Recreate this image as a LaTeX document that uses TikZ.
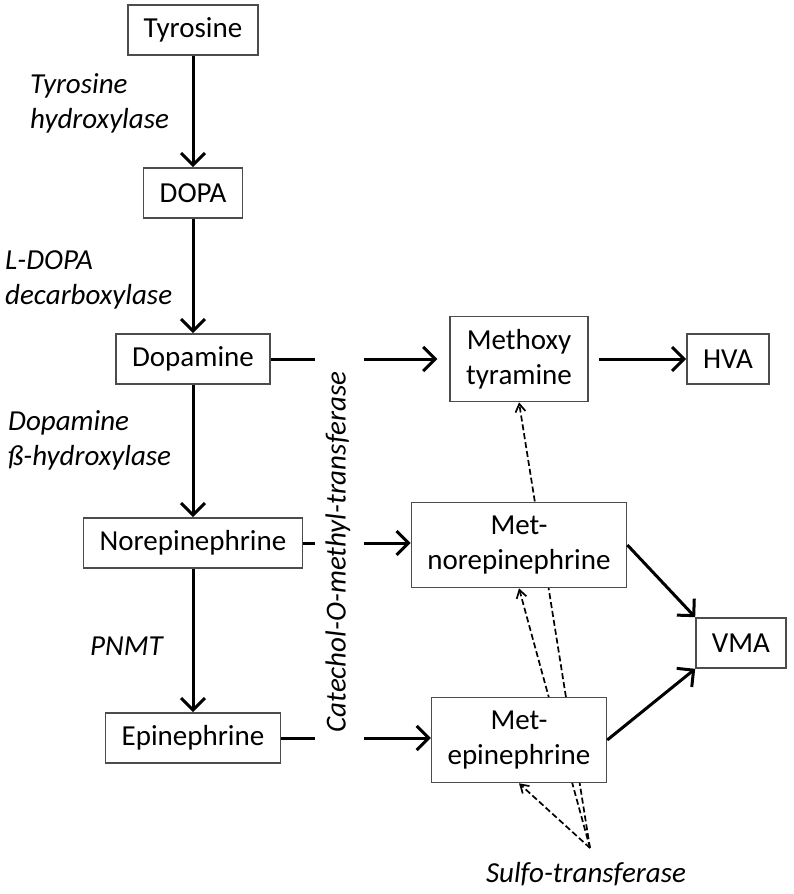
\documentclass[tikz,border=0pt]{standalone}
\usepackage{fontspec}
\setmainfont{Carlito}
\usetikzlibrary{arrows.meta,backgrounds}

\begin{document}
\begin{tikzpicture}[x=1pt,y=-1pt,
    font=\fontsize{29}{35}\selectfont,
    box/.style={draw=black!70,line width=1.6pt,fill=white,inner xsep=16pt,minimum height=50pt,align=center},
    tall/.style={box,minimum height=85pt},
    enzyme/.style={font=\fontsize{29}{35}\selectfont\itshape,align=left,inner sep=0pt},
    link/.style={line width=3pt},
    arr/.style={link,-{Straight Barb[length=12pt,width=24pt]}},
    sulf/.style={line width=1.7pt,dash pattern=on 6pt off 3pt,-{Straight Barb[length=8pt,width=10pt]}}]
                \useasboundingbox (0,0) rectangle (793,894);
                % Main pathway
                \node [box] (tyrosine) at (193,30) {Tyrosine};
                \node [box] (dopa) at (193,193) {DOPA};
                \node [box] (dopamine) at (193,359) {Dopamine};
                \node [box] (norepi) at (193,543) {Norepinephrine};
                \node [box] (epi) at (193,738) {Epinephrine};
                % Metabolites
                \node [tall] (methoxy) at (519,359) {Methoxy\\tyramine};
                \node [box] (hva) at (728,359) {HVA};
                \node [tall] (metnor) at (519,545) {Met-\\norepinephrine};
                \node [tall] (metepi) at (519,740) {Met-\\epinephrine};
                \node [box] (vma) at (741,643) {VMA};
                % Enzymes
                \node [enzyme,anchor=west] (tyrhyd) at (30,103) {Tyrosine\\hydroxylase};
                \node [enzyme,anchor=west] (ddc) at (5,280) {L-DOPA\\decarboxylase};
                \node [enzyme,anchor=west] (dbh) at (8,440) {Dopamine\\ß-hydroxylase};
                \node [enzyme,anchor=west] (pnmt) at (90,646) {PNMT};
                \node [enzyme,rotate=90] (comt) at (338,552) {Catechol-O-methyl-transferase};
                \node [enzyme] (sult) at (586,874) {Sulfo-transferase};
                \coordinate (gapl) at (315,0);
                \coordinate (gapr) at (364,0);
                \coordinate (st) at (590,848);
                % Synthesis
                \draw [arr] (tyrosine) -- (dopa);
                \draw [arr] (dopa) -- (dopamine);
                \draw [arr] (dopamine) -- (norepi);
                \draw [arr] (norepi) -- (epi);
                % Methylation
                \draw [link] (dopamine) -- (dopamine -| gapl);
                \draw [arr,shorten >=12pt] (dopamine -| gapr) -- (methoxy);
                \draw [link] (norepi) -- (norepi -| gapl);
                \draw [arr] (norepi -| gapr) -- (norepi -| metnor.west);
                \draw [link] (epi) -- (epi -| gapl);
                \draw [arr] (epi -| gapr) -- (epi -| metepi.west);
                % Breakdown
                \draw [arr,shorten <=10pt] (methoxy) -- (hva);
                \draw [arr] (metnor.east) -- (vma.north west);
                \draw [arr] (metepi.east) -- (vma.south west);
                % Sulfation
                \begin{scope}[on background layer]
                \draw [sulf] (st) -- (methoxy.south);
                \draw [sulf] (st) -- (metnor.south);
                \draw [sulf] (st) -- (metepi.south);
                \end{scope}
\end{tikzpicture}
\end{document}
